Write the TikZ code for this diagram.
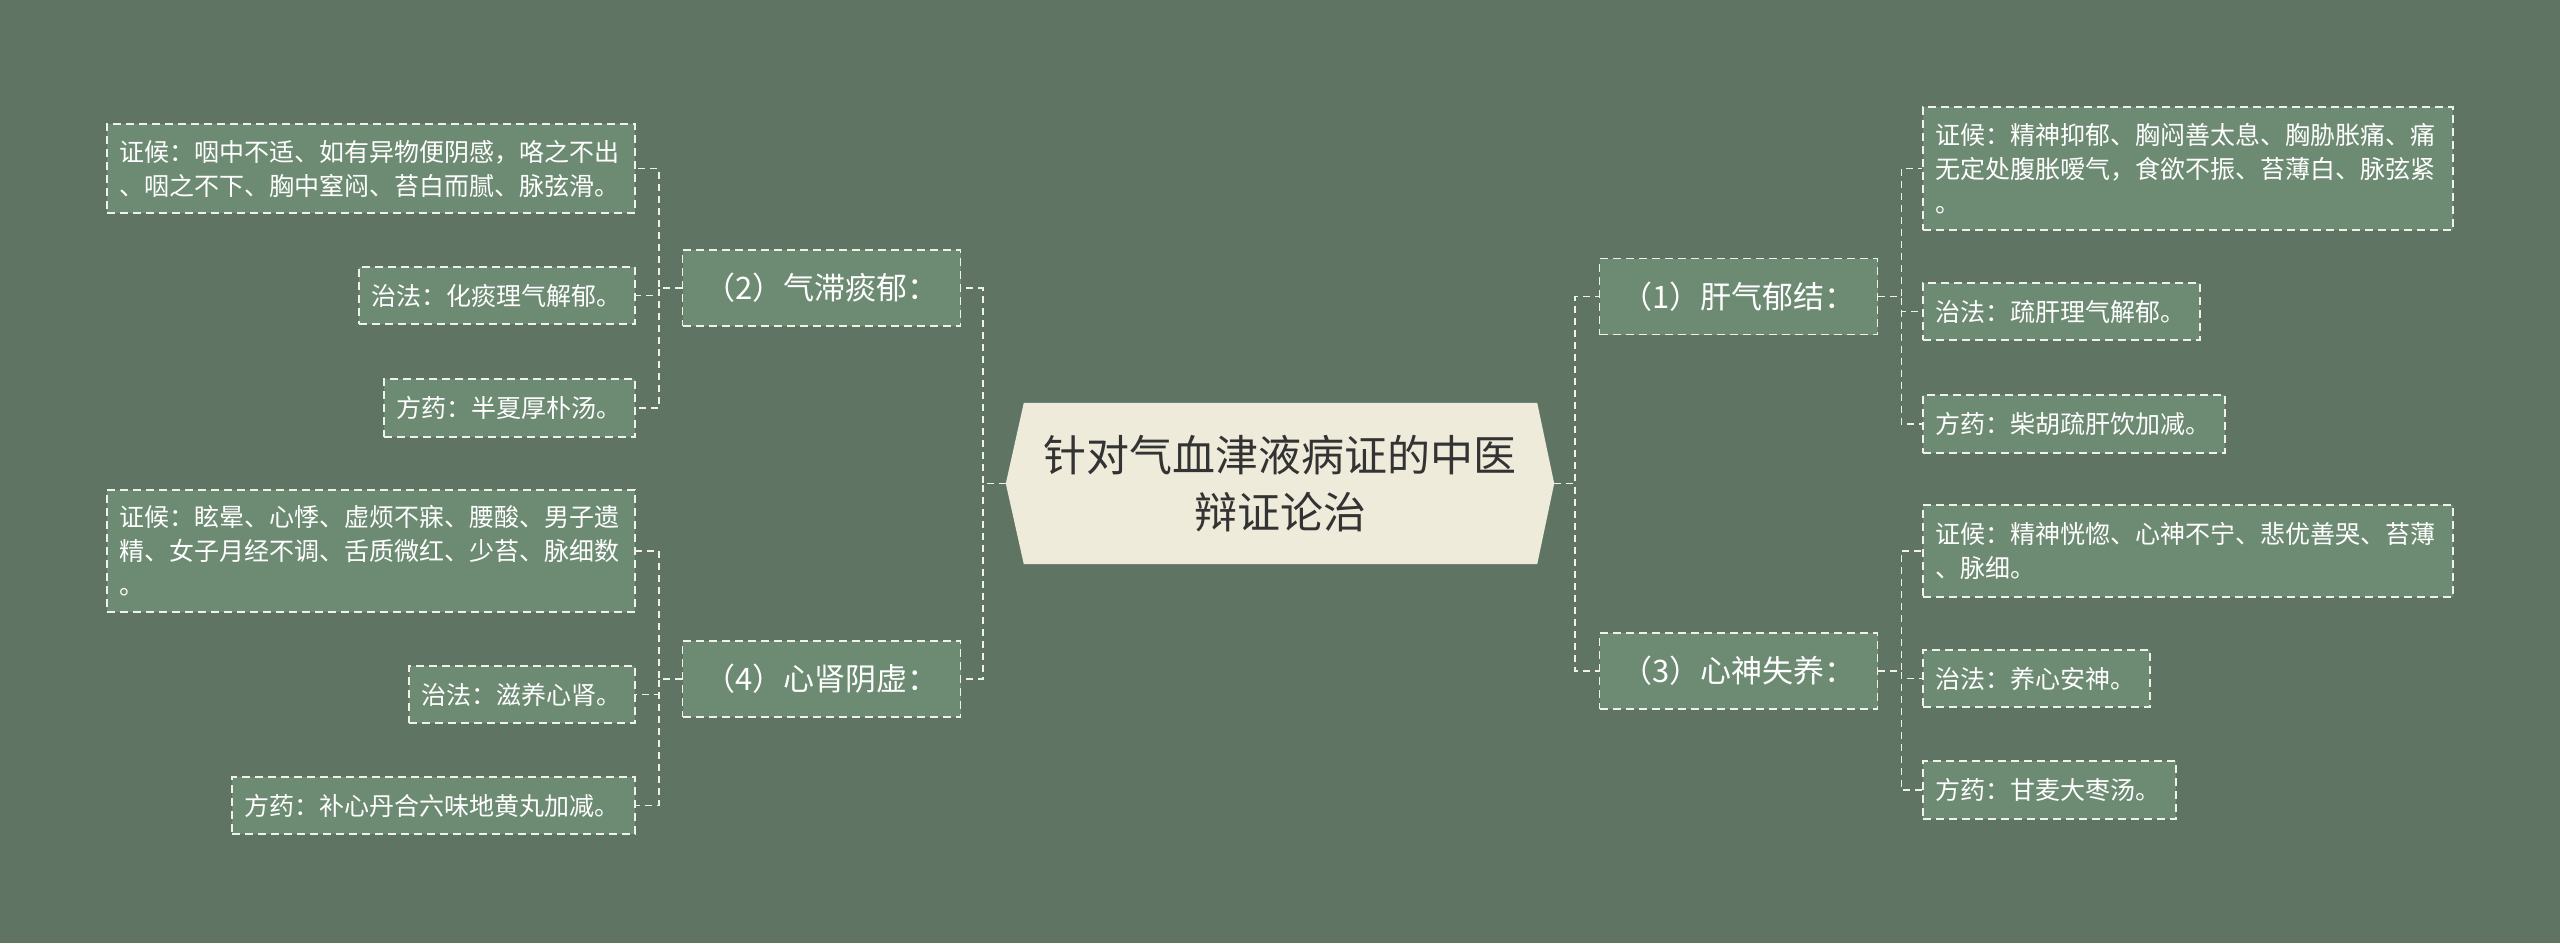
\documentclass[tikz,border=0pt]{standalone}
\usepackage{fontspec}
\setmainfont{Noto Sans CJK SC}
\usetikzlibrary{backgrounds}
\definecolor{bgc}{RGB}{96,116,99}
\definecolor{boxc}{RGB}{109,139,115}
\definecolor{cfill}{RGB}{239,235,219}
\definecolor{ctext}{RGB}{51,51,51}
\definecolor{linec}{RGB}{240,240,236}
\begin{document}
\begin{tikzpicture}[x=1pt,y=-1pt,
  conn/.style={draw=linec, line width=1.8pt, dash pattern=on 7pt off 5pt},
  box/.style={draw=linec, fill=boxc, line width=1.8pt, dash pattern=on 8pt off 5pt, inner sep=0pt, text=white},
  lvone/.style={box, font=\fontsize{31}{38}\selectfont, align=center, minimum width=278pt, minimum height=76pt},
  leaf/.style={box, font=\fontsize{25}{34}\selectfont, align=left}
]
\useasboundingbox (0,0) rectangle (2560,943);

% centre
\node[inner sep=0pt, minimum width=548pt, minimum height=161pt, text width=540pt, align=center,
      font=\fontsize{43}{57}\selectfont, text=ctext] (c) at (1280,483.5) {针对气血津液病证的中医\\辩证论治};

% level one
\node[lvone] (b1) at (1738.5,296.5) {（1）肝气郁结：};
\node[lvone] (b3) at (1738.5,671) {（3）心神失养：};
\node[lvone] (b2) at (821.5,288) {（2）气滞痰郁：};
\node[lvone] (b4) at (821.5,679) {（4）心肾阴虚：};

% right leaves
\node[leaf, minimum width=530pt, minimum height=123pt, text width=506pt] (b1a) at (2188,168.5)
  {证候：精神抑郁、胸闷善太息、胸胁胀痛、痛\\无定处腹胀嗳气，食欲不振、苔薄白、脉弦紧\\。};
\node[leaf, minimum width=277pt, minimum height=57pt, text width=253pt] (b1b) at (2061.5,311.5)
  {治法：疏肝理气解郁。};
\node[leaf, minimum width=302pt, minimum height=58pt, text width=278pt] (b1c) at (2074,424)
  {方药：柴胡疏肝饮加减。};

\node[leaf, minimum width=530pt, minimum height=92pt, text width=506pt] (b3a) at (2188,551)
  {证候：精神恍惚、心神不宁、悲优善哭、苔薄\\、脉细。};
\node[leaf, minimum width=227pt, minimum height=57pt, text width=203pt] (b3b) at (2036.5,678.5)
  {治法：养心安神。};
\node[leaf, minimum width=253pt, minimum height=58pt, text width=229pt] (b3c) at (2049.5,790)
  {方药：甘麦大枣汤。};

% left leaves
\node[leaf, minimum width=528pt, minimum height=89pt, text width=504pt] (b2a) at (371,168.5)
  {证候：咽中不适、如有异物便阴感，咯之不出\\、咽之不下、胸中窒闷、苔白而腻、脉弦滑。};
\node[leaf, minimum width=276pt, minimum height=57pt, text width=252pt] (b2b) at (497,295.5)
  {治法：化痰理气解郁。};
\node[leaf, minimum width=251pt, minimum height=58pt, text width=227pt] (b2c) at (509.5,408)
  {方药：半夏厚朴汤。};

\node[leaf, minimum width=528pt, minimum height=122pt, text width=504pt] (b4a) at (371,551)
  {证候：眩晕、心悸、虚烦不寐、腰酸、男子遗\\精、女子月经不调、舌质微红、少苔、脉细数\\。};
\node[leaf, minimum width=226pt, minimum height=57pt, text width=202pt] (b4b) at (522,694.5)
  {治法：滋养心肾。};
\node[leaf, minimum width=403pt, minimum height=57pt, text width=379pt] (b4c) at (433.5,805.5)
  {方药：补心丹合六味地黄丸加减。};

% connectors
\draw[conn] (c.east) -- ++(21,0) |- (b1.west);
\draw[conn] (c.east) -- ++(21,0) |- (b3.west);
\draw[conn] (c.west) -- ++(-23,0) |- (b2.east);
\draw[conn] (c.west) -- ++(-23,0) |- (b4.east);

\foreach \s in {b1a,b1b,b1c} \draw[conn] (b1.east) -- ++(23,0) |- (\s.west);
\foreach \s in {b3a,b3b,b3c} \draw[conn] (b3.east) -- ++(23,0) |- (\s.west);
\foreach \s in {b2a,b2b,b2c} \draw[conn] (b2.west) -- ++(-23,0) |- (\s.east);
\foreach \s in {b4a,b4b,b4c} \draw[conn] (b4.west) -- ++(-23,0) |- (\s.east);

\begin{scope}[on background layer]
  \fill[bgc] (0,0) rectangle (2560,943);
  \fill[cfill] ([xshift=18pt]c.north west) -- ([xshift=-17pt]c.north east) -- (c.east)
     -- ([xshift=-17pt]c.south east) -- ([xshift=18pt]c.south west) -- (c.west) -- cycle;
\end{scope}
\end{tikzpicture}
\end{document}
